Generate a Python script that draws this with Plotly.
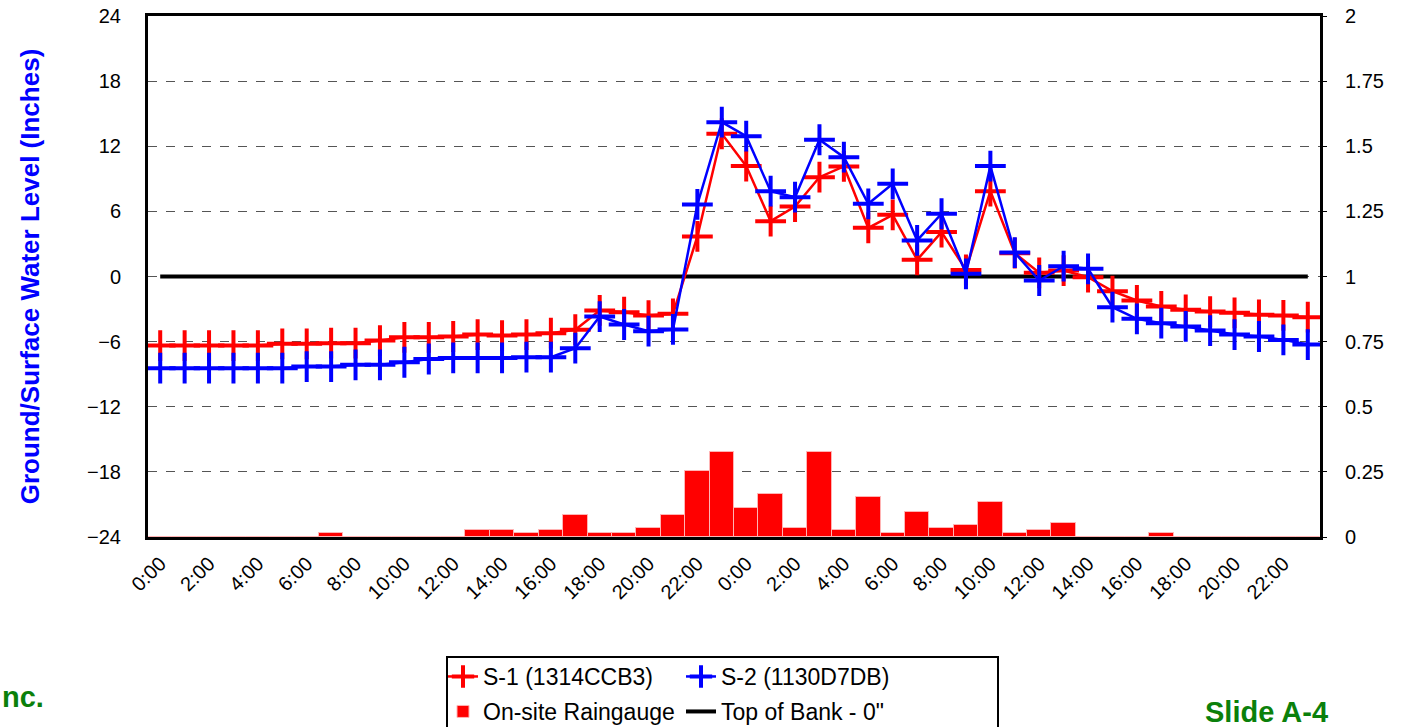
import plotly.graph_objects as go

# ---------------- data ----------------
hour_labels = ["0:00", "1:00", "2:00", "3:00", "4:00", "5:00", "6:00", "7:00", "8:00", "9:00",
               "10:00", "11:00", "12:00", "13:00", "14:00", "15:00", "16:00", "17:00", "18:00", "19:00",
               "20:00", "21:00", "22:00", "23:00"] * 2
x_idx = list(range(len(hour_labels)))

s1_values = [-6.36, -6.36, -6.36, -6.36, -6.36, -6.2, -6.2, -6.14, -6.14, -5.9,
             -5.6, -5.6, -5.53, -5.35, -5.44, -5.35, -5.22, -4.9, -3.13, -3.29,
             -3.6, -3.44, 3.69, 13.15, 10.17, 5.1, 6.45, 9.15, 10.14, 4.48,
             5.68, 1.54, 4.09, 0.61, 7.86, 2.15, 0.34, 0.55, -0.06, -1.35,
             -2.21, -2.76, -3.07, -3.23, -3.35, -3.53, -3.59, -3.75]

s2_values = [-8.45, -8.45, -8.45, -8.45, -8.45, -8.45, -8.3, -8.3, -8.14, -8.14,
             -7.9, -7.6, -7.5, -7.5, -7.5, -7.43, -7.43, -6.6, -3.69, -4.42,
             -5.04, -4.88, 6.64, 14.22, 12.93, 7.86, 7.31, 12.6, 10.99, 6.7,
             8.54, 3.32, 5.78, 0.25, 10.17, 2.2, -0.37, 0.95, 0.71, -2.83,
             -3.9, -4.3, -4.6, -4.98, -5.35, -5.53, -5.84, -6.27]

rain_values = [0, 0, 0, 0, 0, 0, 0, 0.015, 0, 0,
               0, 0, 0, 0.025, 0.025, 0.015, 0.025, 0.085, 0.015, 0.015,
               0.035, 0.085, 0.255, 0.325, 0.11, 0.165, 0.035, 0.325, 0.025, 0.155,
               0.015, 0.095, 0.035, 0.045, 0.135, 0.015, 0.025, 0.055, 0, 0,
               0, 0.015, 0, 0, 0, 0, 0, 0]

top_of_bank = [0.0] * len(hour_labels)

tick_positions = x_idx[::2]
tick_text = hour_labels[::2]

left_ticks = [-24, -18, -12, -6, 0, 6, 12, 18, 24]
right_ticks = [0, 0.25, 0.5, 0.75, 1, 1.25, 1.5, 1.75, 2]
right_tick_text = ["0", "0.25", "0.5", "0.75", "1", "1.25", "1.5", "1.75", "2"]

# ---------------- layout geometry ----------------
W, H = 1406, 727
ML, MR, MT, MB = 148, 86, 16, 190
PW = W - ML - MR
PH = H - MT - MB


def px_x(p):
    return (p - ML) / PW


def px_y(p):
    return (H - MB - p) / PH


FONT = "Arial, Liberation Sans, sans-serif"
GREEN = "#0B800B"

fig = go.Figure()

fig.add_trace(go.Bar(
    x=x_idx, y=rain_values, name="On-site Raingauge", yaxis="y2",
    marker=dict(color="#FF0000", line=dict(color="#FFB4B4", width=1)),
    legend="legend2",
))

fig.add_trace(go.Scatter(
    x=x_idx, y=top_of_bank, name='Top of Bank - 0"', mode="lines",
    line=dict(color="black", width=4), legend="legend2",
))

fig.add_trace(go.Scatter(
    x=x_idx, y=s1_values, name="S-1 (1314CCB3)", mode="lines+markers",
    line=dict(color="#FF0000", width=2.5),
    marker=dict(symbol="cross-thin", size=22, color="#FF0000",
                line=dict(color="#FF0000", width=4)),
    legend="legend",
))

fig.add_trace(go.Scatter(
    x=x_idx, y=s2_values, name="S-2 (1130D7DB)", mode="lines+markers",
    line=dict(color="#0000FF", width=2.5),
    marker=dict(symbol="cross-thin", size=22, color="#0000FF",
                line=dict(color="#0000FF", width=4)),
    legend="legend",
))

legend_common = dict(
    orientation="h", xref="paper", yref="paper", xanchor="left", yanchor="top",
    font=dict(family=FONT, size=23, color="black"),
    bgcolor="rgba(0,0,0,0)", borderwidth=0, itemwidth=30,
    entrywidth=193, entrywidthmode="pixels", itemclick=False,
    traceorder="normal",
)

fig.update_layout(
    width=W, height=H,
    margin=dict(l=ML, r=MR, t=MT, b=MB, pad=0, autoexpand=False),
    paper_bgcolor="white", plot_bgcolor="white",
    font=dict(family=FONT, size=20, color="black"),
    bargap=0,
    showlegend=True,
    legend=dict(x=px_x(443), y=px_y(655), **legend_common),
    legend2=dict(x=px_x(443), y=px_y(690), **legend_common),
    xaxis=dict(
        range=[-0.5, 47.5], tickmode="array", tickvals=tick_positions, ticktext=tick_text,
        tickangle=-45, showgrid=False, zeroline=False, showline=True, linecolor="black",
        linewidth=3, mirror=True, ticks="", tickfont=dict(size=20), automargin=False,
        ticklabelstandoff=4,
    ),
    yaxis=dict(
        range=[-24, 24], tickmode="array", tickvals=left_ticks, showgrid=True,
        gridcolor="#555555", griddash="dash", gridwidth=1, zeroline=False,
        showline=True, linecolor="black", linewidth=3, ticks="", ticklabelstandoff=20,
        tickfont=dict(size=20), automargin=False,
        title=dict(text="Ground/Surface Water Level (Inches)",
                   font=dict(family=FONT, size=26, color="#0000FF", weight="bold"),
                   standoff=40),
    ),
    yaxis2=dict(
        range=[0, 2], overlaying="y", side="right", tickmode="array",
        tickvals=right_ticks, ticktext=right_tick_text, showgrid=False, zeroline=False,
        showline=True, linecolor="black", linewidth=3, ticks="outside", ticklen=4,
        tickcolor="black", ticklabelstandoff=14, tickfont=dict(size=20), automargin=False,
    ),
    shapes=[dict(type="rect", xref="paper", yref="paper",
                 x0=px_x(447), x1=px_x(998), y0=px_y(745), y1=px_y(657),
                 line=dict(color="black", width=2), fillcolor="rgba(0,0,0,0)")],
    annotations=[
        dict(text="<b>nc.</b>", xref="paper", yref="paper", x=px_x(0), y=px_y(697),
             xanchor="left", yanchor="middle", showarrow=False,
             font=dict(family=FONT, size=29, color=GREEN)),
        dict(text="<b>Slide A-4</b>", xref="paper", yref="paper", x=px_x(1330), y=px_y(712),
             xanchor="right", yanchor="middle", showarrow=False,
             font=dict(family=FONT, size=29, color=GREEN)),
    ],
)

fig.write_html(
    "out.html",
    config={"displayModeBar": False},
    post_script="document.body.style.margin='0';document.body.style.overflow='hidden';",
)
